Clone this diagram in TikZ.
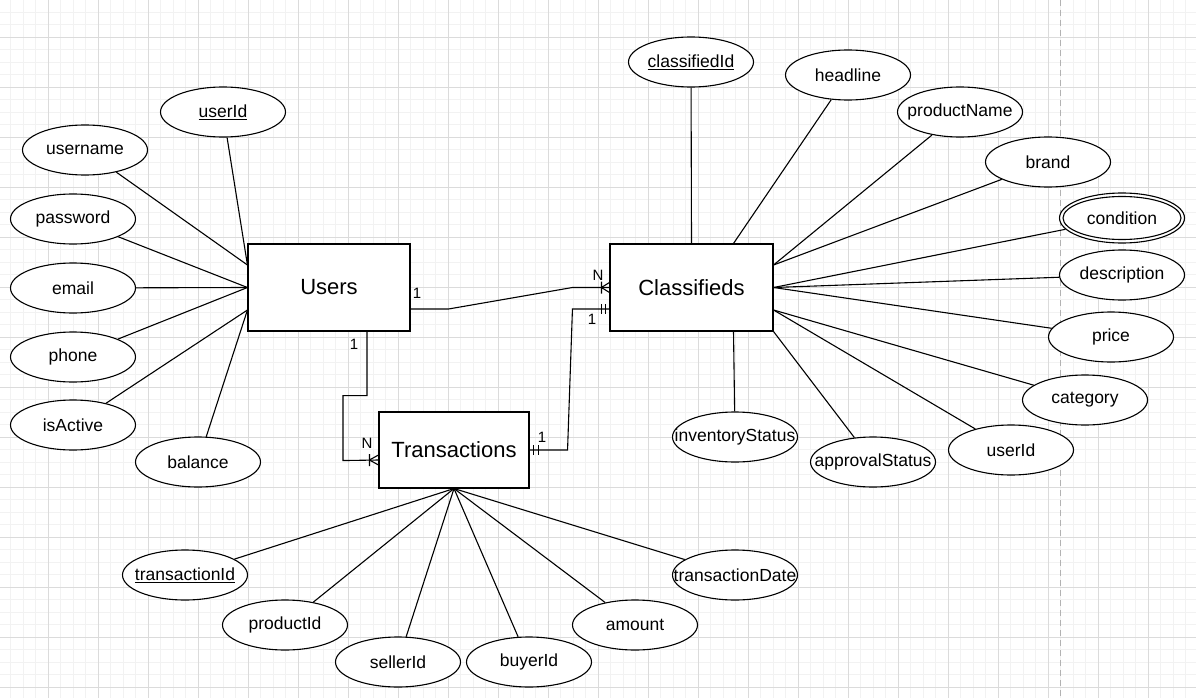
\documentclass[tikz,border=0pt]{standalone}
\usepackage{fontspec}
\setmainfont{Liberation Sans}
\usetikzlibrary{shapes.geometric,calc}
\newcommand\attrtxt[1]{\makebox[0pt]{#1}}
\begin{document}
\begin{tikzpicture}[x=1pt,y=-1pt,
  attr/.style={ellipse,draw,line width=1.1pt,fill=white,minimum width=125pt,minimum height=50pt,inner sep=0pt,font=\fontsize{17.5}{20}\selectfont},
  ent/.style={rectangle,draw,line width=1.1pt,fill=white,inner sep=0pt,font=\fontsize{22}{26}\selectfont},
  conn/.style={line width=1.1pt},
  card/.style={inner sep=0pt,font=\fontsize{15}{17}\selectfont},
  minorgrid/.style={black!5,line width=0.8pt},
  majorgrid/.style={black!14,line width=0.8pt}]
\useasboundingbox (0,0) rectangle (1196,698);
\fill[white] (0,0) rectangle (1196,698);
\begin{scope}
\clip (0,0) rectangle (1196,698);
\foreach \i in {0,...,96} \draw[minorgrid] ({\i*12.5-2},0) -- ++(0,698);
\foreach \i in {0,...,57} \draw[minorgrid] (0,{\i*12.5-13}) -- ++(1196,0);
\foreach \i in {0,...,24} \draw[majorgrid] ({\i*50-2},0) -- ++(0,698);
\foreach \i in {0,...,14} \draw[majorgrid] (0,{\i*50-13}) -- ++(1196,0);
\end{scope}
\draw[black!30,line width=0.9pt,dash pattern=on 6pt off 4pt] (1060,0) -- (1060,698);

% entities
\node[ent,minimum width=162pt,minimum height=87pt] (users) at (329,287.5) {Users};
\node[ent,minimum width=163pt,minimum height=87pt] (cls) at (691.5,287.5) {Classifieds};
\node[ent,minimum width=150pt,minimum height=76pt] (trans) at (454,450) {Transactions};

% attributes of Users
\node[attr] (uid) at (223,112) {\attrtxt{\underline{userId}}};
\node[attr] (uname) at (85,150) {\attrtxt{username}};
\node[attr] (pwd) at (73,219) {\attrtxt{password}};
\node[attr] (email) at (73,288) {\attrtxt{email}};
\node[attr] (phone) at (73,357) {\attrtxt{phone}};
\node[attr] (active) at (73,425) {\attrtxt{isActive}};
\node[attr] (bal) at (198,462) {\attrtxt{balance}};

% attributes of Classifieds
\node[attr] (cid) at (691,62) {\attrtxt{\underline{classifiedId}}};
\node[attr] (head) at (848,75) {\attrtxt{headline}};
\node[attr] (pname) at (960,112) {\attrtxt{productName}};
\node[attr] (brand) at (1048,162) {\attrtxt{brand}};
\node[attr] (cond) at (1122,218) {\attrtxt{condition}};
\draw[line width=1.1pt] (cond.center) ellipse [x radius=59pt,y radius=21.5pt];
\node[attr] (desc) at (1122,275) {\attrtxt{description}};
\node[attr] (price) at (1111,337) {\attrtxt{price}};
\node[attr] (cat) at (1085,400) {\attrtxt{category}};
\node[attr] (cuid) at (1011,450) {\attrtxt{userId}};
\node[attr] (inv) at (735,437) {\attrtxt{inventoryStatus}};
\node[attr] (appr) at (873,462) {\attrtxt{approvalStatus}};

% attributes of Transactions
\node[attr] (tid) at (185,575) {\attrtxt{\underline{transactionId}}};
\node[attr] (prod) at (285,625) {\attrtxt{productId}};
\node[attr] (sell) at (398,662) {\attrtxt{sellerId}};
\node[attr] (buy) at (529,662) {\attrtxt{buyerId}};
\node[attr] (amt) at (635,625) {\attrtxt{amount}};
\node[attr] (tdate) at (735,575) {\attrtxt{transactionDate}};

% anchor coordinates
\coordinate (uW1) at ([yshift=22.5pt]users.west);
\coordinate (uW2) at (users.west);
\coordinate (uW3) at ([yshift=-22.5pt]users.west);
\coordinate (cN2) at ([xshift=42pt]cls.north);
\coordinate (cE1) at ([yshift=22.5pt]cls.east);
\coordinate (cE2) at (cls.east);
\coordinate (cE3) at ([yshift=-22.5pt]cls.east);
\coordinate (cS2) at ([xshift=42pt]cls.south);

% attribute connectors
\draw[conn] (uid) -- (uW1);
\draw[conn] (uname) -- (uW1);
\draw[conn] (pwd) -- (uW2);
\draw[conn] (email) -- (uW2);
\draw[conn] (phone) -- (uW2);
\draw[conn] (active) -- (uW3);
\draw[conn] (bal) -- (uW3);

\draw[conn] (cid) -- (cls.north);
\draw[conn] (head) -- (cN2);
\draw[conn] (pname) -- (cE1);
\draw[conn] (brand) -- (cE1);
\draw[conn] (cond) -- (cE2);
\draw[conn] (desc) -- (cE2);
\draw[conn] (price) -- (cE2);
\draw[conn] (cat) -- (cE3);
\draw[conn] (cuid) -- (cE3);
\draw[conn] (appr) -- (cls.south east);
\draw[conn] (inv) -- (cS2);

\foreach \a in {tid,prod,sell,buy,amt,tdate} \draw[conn] (\a) -- (trans.south);

% Users -- Classifieds (1 : N)
\draw[conn] ([yshift=-21.5pt]users.east) -- ++(38,0) -- ([xshift=-37pt]cls.west) -- (cls.west);
\draw[conn] ([xshift=-8pt]cls.west) -- ([yshift=5pt]cls.west)
            ([xshift=-8pt]cls.west) -- ([yshift=-5pt]cls.west)
            ([xshift=-8pt,yshift=6pt]cls.west) -- ([xshift=-8pt,yshift=-6pt]cls.west);
\node[card] at (417,293) {1};
\node[card] at (598,275) {N};

% Transactions -- Classifieds (1 : 1)
\draw[conn] (trans.east) -- ++(38,0) -- ([xshift=-37pt,yshift=-21.5pt]cls.west) -- ([yshift=-21.5pt]cls.west);
\draw[conn] ([xshift=-8pt,yshift=-16.5pt]cls.west) -- ([xshift=-8pt,yshift=-26.5pt]cls.west)
            ([xshift=-4pt,yshift=-16.5pt]cls.west) -- ([xshift=-4pt,yshift=-26.5pt]cls.west);
\draw[conn] ([xshift=4pt,yshift=5pt]trans.east) -- ([xshift=4pt,yshift=-5pt]trans.east)
            ([xshift=9pt,yshift=5pt]trans.east) -- ([xshift=9pt,yshift=-5pt]trans.east);
\node[card] at (592,319) {1};
\node[card] at (542,437) {1};

% Users -- Transactions (1 : N)
\coordinate (tW) at ([yshift=-10pt]trans.west);
\draw[conn] ([xshift=38pt]users.south) -- ++(0,64) -- ++(-24,0) -- ++(0,65) -- (tW);
\draw[conn] ([xshift=-9pt]tW) -- ([yshift=5pt]tW)
            ([xshift=-9pt]tW) -- ([yshift=-5pt]tW)
            ([xshift=-9pt,yshift=6pt]tW) -- ([xshift=-9pt,yshift=-6pt]tW);
\node[card] at (354,344) {1};
\node[card] at (367,443) {N};
\end{tikzpicture}
\end{document}
